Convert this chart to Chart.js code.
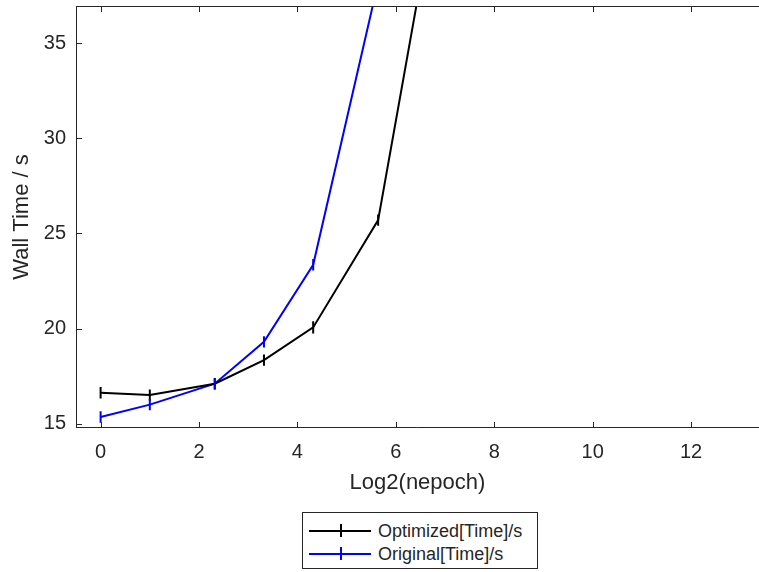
<!DOCTYPE html>
<html>
<head>
<meta charset="utf-8">
<script src="https://cdn.jsdelivr.net/npm/chart.js@4.4.1/dist/chart.umd.min.js"></script>
<style>
  html, body { margin: 0; padding: 0; background: #fff; }
  #wrap { position: relative; width: 759px; height: 572px; }
  #legend {
    position: absolute; left: 302px; top: 512px; width: 234px; height: 55px;
    border: 1px solid #262626; background: #fff;
    font-family: "Liberation Sans", Arial, sans-serif; font-size: 18px; color: #262626;
  }
  .row { position: absolute; left: 0; height: 22px; width: 100%; }
  .row .ln { position: absolute; left: 6px; top: 10px; width: 62px; height: 2px; }
  .row .tk { position: absolute; left: 37px; top: 4px; width: 2px; height: 13px; }
  .row .tx { position: absolute; left: 75px; top: 0; line-height: 22px; white-space: nowrap; }
</style>
</head>
<body>
<div id="wrap">
  <canvas id="chart" width="759" height="572"></canvas>
  <div id="legend"></div>
</div>
<script>
// x = log2 of the epoch count
const xVals = [0, 1, 2.32, 3.32, 4.32, 5.64, 6.64];
const optimized = [16.62, 16.5, 17.1, 18.34, 20.06, 25.7, 40.2];
const optimizedErr = [0.3, 0.3, 0.3, 0.3, 0.32, 0.3, 0.3];
const original = [15.35, 16.0, 17.1, 19.3, 23.35, 38.2, null];
const originalErr = [0.3, 0.3, 0.3, 0.3, 0.3, 0.3, 0];

const xTicks = [0, 2, 4, 6, 8, 10, 12];
const yTicks = [15, 20, 25, 30, 35];

const seriesNames = ['Optimized[Time]/s', 'Original[Time]/s'];
const seriesColors = ['#000000', '#0000ff'];

const axisColor = '#262626';
const fontFamily = '"Liberation Sans", Arial, sans-serif';

// MATLAB-like box: top edge, left/bottom edges, inward ticks
const frame = {
  id: 'frame',
  afterDraw(chart) {
    const { ctx, chartArea: a, scales: { x, y } } = chart;
    ctx.save();
    ctx.strokeStyle = axisColor;
    ctx.lineWidth = 1;
    ctx.beginPath();
    ctx.moveTo(a.left + 0.5, a.top);
    ctx.lineTo(a.left + 0.5, a.bottom);
    ctx.moveTo(a.left, a.bottom - 0.5);
    ctx.lineTo(a.right, a.bottom - 0.5);
    ctx.moveTo(a.left, a.top + 0.5);
    ctx.lineTo(a.right, a.top + 0.5);
    xTicks.forEach(v => {
      const px = Math.round(x.getPixelForValue(v)) + 0.5;
      ctx.moveTo(px, a.bottom);
      ctx.lineTo(px, a.bottom - 6);
      ctx.moveTo(px, a.top);
      ctx.lineTo(px, a.top + 6);
    });
    yTicks.forEach(v => {
      const py = Math.round(y.getPixelForValue(v)) + 0.5;
      ctx.moveTo(a.left, py);
      ctx.lineTo(a.left + 6, py);
    });
    ctx.stroke();
    ctx.restore();
  }
};

// vertical error bars
const errorBars = {
  id: 'errorBars',
  afterDatasetsDraw(chart) {
    const { ctx, chartArea: a, scales: { x, y } } = chart;
    ctx.save();
    ctx.beginPath();
    ctx.rect(a.left, a.top, a.right - a.left, a.bottom - a.top);
    ctx.clip();
    chart.data.datasets.forEach(ds => {
      ctx.strokeStyle = ds.borderColor;
      ctx.lineWidth = 2;
      ctx.beginPath();
      ds.data.forEach((p, i) => {
        if (p.y == null) return;
        const e = ds.err[i];
        const px = x.getPixelForValue(p.x);
        ctx.moveTo(px, y.getPixelForValue(p.y - e));
        ctx.lineTo(px, y.getPixelForValue(p.y + e));
      });
      ctx.stroke();
    });
    ctx.restore();
  }
};

function points(vals) {
  return xVals.map((v, i) => ({ x: v, y: vals[i] }));
}

const ctx = document.getElementById('chart').getContext('2d');
const chart = new Chart(ctx, {
  type: 'line',
  data: {
    datasets: [
      { label: seriesNames[0], data: points(optimized), err: optimizedErr,
        borderColor: seriesColors[0], borderWidth: 2, pointRadius: 0, tension: 0 },
      { label: seriesNames[1], data: points(original), err: originalErr,
        borderColor: seriesColors[1], borderWidth: 2, pointRadius: 0, tension: 0 }
    ]
  },
  options: {
    responsive: false,
    animation: false,
    layout: { padding: { top: 6, left: 0, right: 0, bottom: 0 } },
    plugins: { legend: { display: false }, tooltip: { enabled: false } },
    scales: {
      x: {
        type: 'linear', min: -0.5, max: 13.38,
        grid: { display: false, drawTicks: false },
        border: { display: false },
        afterBuildTicks: s => { s.ticks = xTicks.map(v => ({ value: v })); },
        afterFit: s => { s.height = 144; s.paddingLeft = 0; s.paddingRight = 0; },
        ticks: { autoSkip: false, maxRotation: 0, padding: 12, color: axisColor,
                 font: { family: fontFamily, size: 20 }, callback: v => String(v) },
        title: { display: true, text: 'Log2(nepoch)', color: axisColor,
                 font: { family: fontFamily, size: 22 }, padding: { top: 0, bottom: 76 } }
      },
      y: {
        type: 'linear', min: 14.77, max: 36.96,
        grid: { display: false, drawTicks: false },
        border: { display: false },
        afterBuildTicks: s => { s.ticks = yTicks.map(v => ({ value: v })); },
        afterFit: s => { s.width = 76; s.paddingTop = 0; s.paddingBottom = 0; },
        ticks: { autoSkip: false, padding: 10, color: axisColor,
                 font: { family: fontFamily, size: 20 }, callback: v => String(v) },
        title: { display: true, text: 'Wall Time / s', color: axisColor,
                 font: { family: fontFamily, size: 22 }, padding: { top: 9, bottom: 0 } }
      }
    }
  },
  plugins: [errorBars, frame]
});

// legend below the plot
const legend = document.getElementById('legend');
seriesNames.forEach((name, i) => {
  const row = document.createElement('div');
  row.className = 'row';
  row.style.top = (7 + i * 23) + 'px';
  row.innerHTML = '<span class="ln" style="background:' + seriesColors[i] + '"></span>' +
    '<span class="tk" style="background:' + seriesColors[i] + '"></span>' +
    '<span class="tx">' + name + '</span>';
  legend.appendChild(row);
});
</script>
</body>
</html>
